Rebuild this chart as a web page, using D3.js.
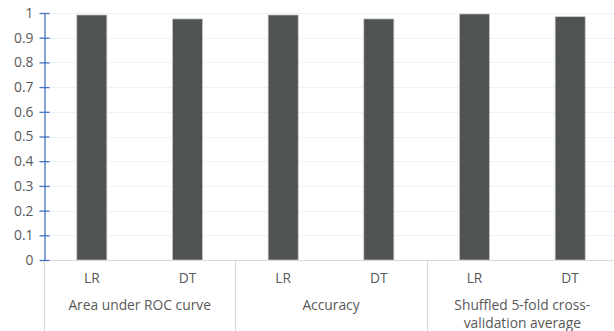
<!DOCTYPE html>
<html>
<head>
<meta charset="utf-8">
<script src="https://cdn.jsdelivr.net/npm/d3@7"></script>
<style>
  html, body { margin: 0; padding: 0; background: #fff; }
  svg { display: block; }
  text { font-family: "Open Sans", "Noto Sans", sans-serif; fill: #595959; }
</style>
</head>
<body>
<svg id="chart" width="614" height="331"></svg>
<script>
// Metric groups, models within each group, and the scores
const groups = ["Area under ROC curve", "Accuracy", "Shuffled 5-fold cross-validation average"];
const models = ["LR", "DT"];
const scores = [
  [0.992, 0.976],
  [0.992, 0.976],
  [0.996, 0.985]
];
const yTicks = [0, 0.1, 0.2, 0.3, 0.4, 0.5, 0.6, 0.7, 0.8, 0.9, 1];

const svg = d3.select("#chart");
const plotLeft = 44, plotRight = 618, plotTop = 13, plotBottom = 260;
const fontSize = "13.8px";

const rows = [];
groups.forEach((g, gi) => models.forEach((m, mi) => rows.push({ key: gi + "-" + mi, group: g, model: m, value: scores[gi][mi] })));

const x = d3.scaleBand().domain(rows.map(d => d.key)).range([plotLeft, plotRight]).paddingInner(0.686).paddingOuter(0.343);
const y = d3.scaleLinear().domain([0, 1]).range([plotBottom, plotTop]);
const step = x.step();

// Horizontal gridlines
svg.append("g").selectAll("line").data(yTicks.slice(1)).join("line")
  .attr("x1", plotLeft).attr("x2", plotRight)
  .attr("y1", d => Math.round(y(d)) + 0.5).attr("y2", d => Math.round(y(d)) + 0.5)
  .attr("stroke", "#edf2f9").attr("stroke-width", 1);

// Bars
svg.append("g").selectAll("rect").data(rows).join("rect")
  .attr("x", d => x(d.key)).attr("width", x.bandwidth())
  .attr("y", d => y(d.value)).attr("height", d => y(0) - y(d.value))
  .attr("fill", "#505354").attr("stroke", "#c8c8c8").attr("stroke-width", 0.7);

// Category baseline and group separators
svg.append("line").attr("x1", plotLeft).attr("x2", plotRight).attr("y1", plotBottom + 0.5).attr("y2", plotBottom + 0.5)
  .attr("stroke", "#d9d9d9");
const seps = d3.range(groups.length).map(i => plotLeft + i * step * models.length);
svg.append("g").selectAll("line").data(seps).join("line")
  .attr("x1", d => Math.round(d) + 0.5).attr("x2", d => Math.round(d) + 0.5)
  .attr("y1", plotBottom).attr("y2", 331)
  .attr("stroke", "#d9d9d9");

// Y axis
const yAxis = d3.axisLeft(y).tickValues(yTicks).tickFormat(d => String(+d.toFixed(1))).tickSize(0).tickPadding(11);
const ya = svg.append("g").attr("transform", `translate(${plotLeft + 0.5},0)`).call(yAxis);
ya.select(".domain").attr("stroke", "#4472c4").attr("stroke-width", 1.3);
ya.selectAll(".tick line").remove();
ya.selectAll(".tick").append("line").attr("x1", -5).attr("x2", 5).attr("stroke", "#4472c4").attr("stroke-width", 1.3);
ya.selectAll(".tick text").style("font-size", fontSize).attr("fill", "#595959").style("font-family", "'Open Sans', sans-serif");

// Model labels
svg.append("g").selectAll("text").data(rows).join("text")
  .attr("x", d => x(d.key) + x.bandwidth() / 2).attr("y", 282.5)
  .attr("text-anchor", "middle").style("font-size", fontSize)
  .text(d => d.model);

// Group labels (wrapped)
const wrapped = [["Area under ROC curve"], ["Accuracy"], ["Shuffled 5-fold cross-", "validation average"]];
groups.forEach((g, gi) => {
  const cx = plotLeft + (gi + 0.5) * step * models.length;
  wrapped[gi].forEach((line, li) => {
    svg.append("text").attr("x", cx).attr("y", 310 + li * 17.5)
      .attr("text-anchor", "middle").style("font-size", fontSize).text(line);
  });
});
</script>
</body>
</html>
